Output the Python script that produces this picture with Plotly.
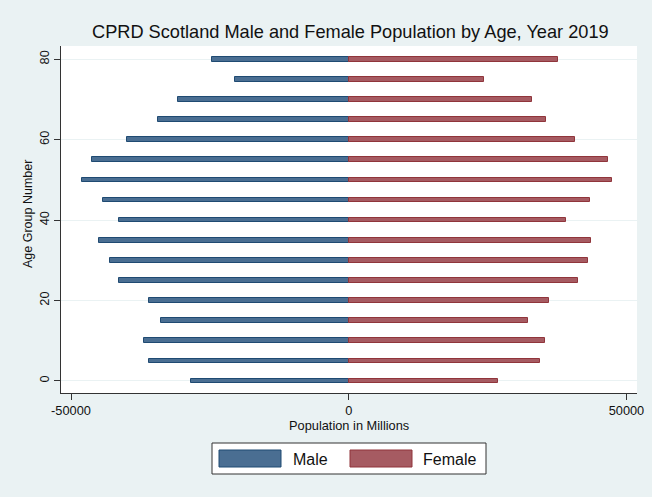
import plotly.graph_objects as go

# Age groups (lower bound of each 5-year band)
age_groups = [0, 5, 10, 15, 20, 25, 30, 35, 40, 45, 50, 55, 60, 65, 70, 75, 80]

# Population counts per age group
male_pop = [28400, 36000, 36900, 33800, 36000, 41400, 43000, 45000, 41400,
            44200, 48000, 46200, 39900, 34400, 30800, 20500, 24700]
female_pop = [26900, 34500, 35400, 32300, 36100, 41300, 43100, 43600, 39100,
              43500, 47400, 46700, 40800, 35500, 33000, 24400, 37700]

x_ticks = [-50000, 0, 50000]
x_tick_text = ["-50000", "0", "50000"]
y_ticks = [0, 20, 40, 60, 80]

W, H = 652, 497
ML, MR, MT, MB = 61, 15, 46, 104
PW, PH = W - ML - MR, H - MT - MB

FONT = "Liberation Sans, Arial, sans-serif"
MALE_FILL, MALE_LINE = "#4A6E92", "#1F4A72"
FEMALE_FILL, FEMALE_LINE = "#A65B62", "#90353B"
BG = "#EAF2F3"


def px_x(px):
    return (px - ML) / PW


def px_y(py):
    return (MT + PH - py) / PH


fig = go.Figure()
fig.add_trace(go.Bar(
    y=age_groups, x=[-v for v in male_pop], orientation="h", width=1.15,
    marker=dict(color=MALE_FILL, line=dict(color=MALE_LINE, width=1)),
    name="Male", hoverinfo="skip", showlegend=False,
))
fig.add_trace(go.Bar(
    y=age_groups, x=female_pop, orientation="h", width=1.15,
    marker=dict(color=FEMALE_FILL, line=dict(color=FEMALE_LINE, width=1)),
    name="Female", hoverinfo="skip", showlegend=False,
))

shapes = [
    # legend frame
    dict(type="rect", xref="paper", yref="paper",
         x0=px_x(212), x1=px_x(486), y0=px_y(474), y1=px_y(443),
         fillcolor="white", line=dict(color="#333333", width=1), layer="below"),
    dict(type="rect", xref="paper", yref="paper",
         x0=px_x(219), x1=px_x(281), y0=px_y(467), y1=px_y(450),
         fillcolor=MALE_FILL, line=dict(color=MALE_LINE, width=1)),
    dict(type="rect", xref="paper", yref="paper",
         x0=px_x(350), x1=px_x(412), y0=px_y(467), y1=px_y(450),
         fillcolor=FEMALE_FILL, line=dict(color=FEMALE_LINE, width=1)),
]

annotations = [
    dict(text="CPRD Scotland Male and Female Population by Age, Year 2019",
         xref="paper", yref="paper", x=px_x(350), y=px_y(32), showarrow=False,
         xanchor="center", yanchor="middle",
         font=dict(family=FONT, size=18.2, color="#111111")),
    dict(text="Population in Millions", xref="paper", yref="paper",
         x=px_x(349), y=px_y(425), showarrow=False, xanchor="center",
         yanchor="middle", font=dict(family=FONT, size=12.8, color="#111111")),
    dict(text="Age Group Number", xref="paper", yref="paper",
         x=px_x(28), y=px_y(214), showarrow=False, textangle=-90,
         xanchor="center", yanchor="middle",
         font=dict(family=FONT, size=12.5, color="#111111")),
    dict(text="Male", xref="paper", yref="paper", x=px_x(291), y=px_y(459),
         showarrow=False, xanchor="left", yanchor="middle",
         font=dict(family=FONT, size=16, color="#111111")),
    dict(text="Female", xref="paper", yref="paper", x=px_x(421), y=px_y(459),
         showarrow=False, xanchor="left", yanchor="middle",
         font=dict(family=FONT, size=16, color="#111111")),
]

fig.update_layout(
    width=W, height=H,
    margin=dict(l=ML, r=MR, t=MT, b=MB, pad=0, autoexpand=False),
    paper_bgcolor=BG, plot_bgcolor="white",
    barmode="overlay", bargap=0,
    shapes=shapes, annotations=annotations,
    font=dict(family=FONT, size=12.8, color="#111111"),
    xaxis=dict(range=[-51800, 51900], tickvals=x_ticks, ticktext=x_tick_text,
               ticks="outside", ticklen=6, tickcolor="#333333",
               showline=True, linecolor="#333333", linewidth=1,
               showgrid=False, zeroline=False, automargin=False,
               tickfont=dict(family=FONT, size=12.8, color="#111111")),
    yaxis=dict(range=[-3, 83.3], tickvals=y_ticks, tickangle=-90,
               ticks="outside", ticklen=6, tickcolor="#333333",
               showline=True, linecolor="#333333", linewidth=1,
               showgrid=True, gridcolor=BG, gridwidth=1, zeroline=False,
               automargin=False,
               tickfont=dict(family=FONT, size=12.8, color="#111111")),
)

fig.write_html("out.html")
